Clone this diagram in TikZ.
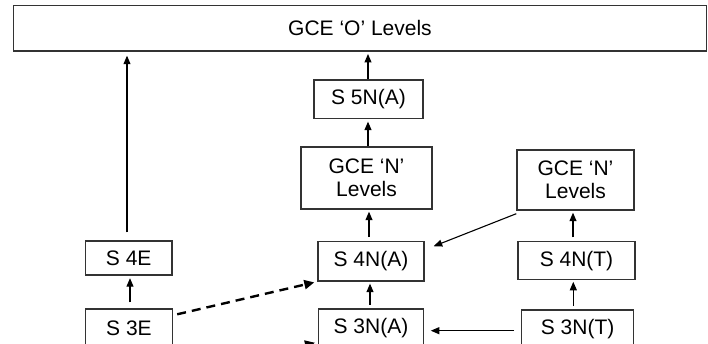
\documentclass[tikz,border=0pt]{standalone}
\usepackage{fontspec}
\setmainfont{Liberation Sans}
\usetikzlibrary{arrows.meta,calc}
\tikzset{
  box/.style={draw=black!80, line width=1.4pt, fill=white, inner sep=0pt,
    font=\fontsize{21}{23.5}\selectfont, align=center},
  arr/.style={line width=1.1pt, -{Triangle[length=8.5pt,width=7pt]}},
  darr/.style={line width=2.4pt, dash pattern=on 9pt off 6pt,
    -{Triangle[length=10pt,width=9pt]}},
}
\begin{document}
\begin{tikzpicture}[x=1pt,y=-1pt]
\useasboundingbox (0,0) rectangle (708,344);
\clip (0,0) rectangle (708,344);
\fill[white] (0,0) rectangle (708,344);
% boxes
\node[box, minimum width=693pt, minimum height=45.5pt] (top) at (360,28.25) {GCE ‘O’ Levels};
\node[box, minimum width=109pt, minimum height=38.7pt] (s5na) at (368.5,99.3) {S 5N(A)};
\node[box, minimum width=131pt, minimum height=62pt] (gcenl) at (366.5,178) {GCE ‘N’\\Levels};
\node[box, minimum width=117pt, minimum height=60pt] (gcenr) at (575.5,180) {GCE ‘N’\\Levels};
\node[box, minimum width=86.5pt, minimum height=34pt] (s4e) at (128.75,258) {S 4E};
\node[box, minimum width=106pt, minimum height=39.3pt] (s4na) at (371,261.3) {S 4N(A)};
\node[box, minimum width=117pt, minimum height=38pt] (s4nt) at (576.5,260.6) {S 4N(T)};
\node[box, minimum width=87pt, minimum height=38pt] (s3e) at (129,328) {S 3E};
\node[box, minimum width=105.2pt, minimum height=39pt] (s3na) at (371,328.5) {S 3N(A)};
\node[box, minimum width=112pt, minimum height=39pt] (s3nt) at (577.6,329.5) {S 3N(T)};
% helper coordinates
\coordinate (dgs) at ($(gcenr.south west)+(0,3)$);
\coordinate (dgt) at ($(s4na.north east)+(9,5.3)$);
\coordinate (ds) at ($(s3e.north east)+(4,6)$);
\coordinate (dt) at ($(s4na.south west)+(-3,0.7)$);
\coordinate (ds2) at (176.7,376);
\coordinate (dt2) at (315,342.7);
% solid arrows
\draw[arr, shorten <=8pt, shorten >=4pt] (s4e.north -| 127,0) -- (top.south -| 127,0);
\draw[arr, shorten <=6pt, shorten >=2.5pt] (s3e.north -| 130,0) -- (s4e.south -| 130,0);
\draw[arr, shorten >=2.3pt] (s5na.north -| 368,0) -- (top.south -| 368,0);
\draw[arr, shorten >=2.3pt] (gcenl.north -| 368,0) -- (s5na.south -| 368,0);
\draw[arr, shorten <=3.7pt, shorten >=2pt] (s4na.north -| 369,0) -- (gcenl.south -| 369,0);
\draw[arr, shorten <=3.5pt, shorten >=2pt] (s3na.north -| 370,0) -- (s4na.south -| 370,0);
\draw[arr, shorten <=3.5pt, shorten >=2pt] (s4nt.north -| 573,0) -- (gcenr.south -| 573,0);
\draw[arr, shorten <=3.3pt, shorten >=1.5pt] (s3nt.north -| 573.3,0) -- (s4nt.south -| 573.3,0);
\draw[arr, shorten <=6.7pt, shorten >=6.5pt] (s3nt.west |- 0,330.7) -- (s3na.east |- 0,330.7);
\draw[arr] (dgs) -- (dgt);
% dashed arrows
\draw[darr] (ds) -- (dt);
\draw[darr] (ds2) -- (dt2);
\end{tikzpicture}
\end{document}
